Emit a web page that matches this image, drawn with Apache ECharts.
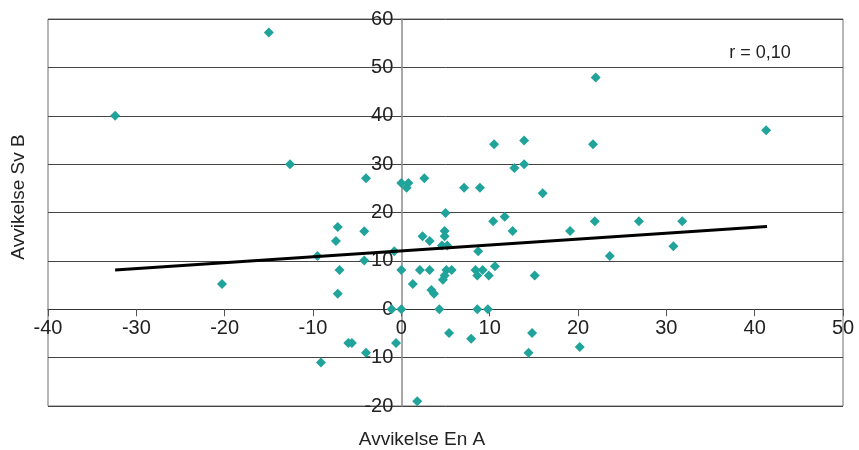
<!DOCTYPE html>
<html>
<head>
<meta charset="utf-8">
<script src="https://cdn.jsdelivr.net/npm/echarts@6/dist/echarts.min.js"></script>
<style>
  html, body { margin: 0; padding: 0; background: #ffffff; }
  #chart { width: 859px; height: 450px; }
</style>
</head>
<body>
<div id="chart"></div>
<script>
// Deviation En A (x) against deviation Sv B (y), one value per pupil group
const devEnA = [
  -32.4, -15.0, -12.6, -4.0, 0.0, 0.8, 0.6, 2.6, -7.2, -4.2,
  -7.4, -9.5, -4.2, -7.0, -7.2, -0.8, 0.0, -1.1, 0.0, 2.1,
  3.2, 1.3, 2.4, 3.2, 3.4, 3.7, 4.3, 4.9, 4.9, 4.6,
  5.2, 5.0, 5.1, 5.7, 4.9, 4.7, 8.7, 12.6, 19.1, 10.4,
  11.7, 8.4, 9.2, 8.6, 9.9, 10.6, 15.1, 8.6, 9.8, 5.4,
  7.9, 14.8, 14.4, 20.2, 1.8, -20.3, -6.0, -5.6, -4.0, -9.1,
  -0.6, 10.5, 13.9, 13.9, 12.8, 7.1, 8.9, 16.0, 22.0, 41.3,
  21.7, 21.9, 26.9, 31.8, 23.6, 30.8
];
const devSvB = [
  40.0, 57.2, 30.0, 27.1, 26.1, 26.1, 25.1, 27.1, 17.0, 16.1,
  14.1, 11.0, 10.1, 8.1, 3.2, 12.0, 8.1, 0.0, 0.0, 8.1,
  8.1, 5.2, 15.1, 14.1, 4.0, 3.2, 0.0, 16.2, 15.1, 13.2,
  13.2, 19.9, 8.1, 8.1, 7.0, 6.1, 12.0, 16.2, 16.2, 18.2,
  19.1, 8.1, 8.1, 7.0, 7.0, 8.9, 7.0, 0.0, 0.0, -4.9,
  -6.1, -4.9, -9.0, -7.8, -19.0, 5.2, -7.0, -7.0, -9.0, -11.0,
  -7.0, 34.1, 34.9, 30.0, 29.2, 25.1, 25.1, 24.0, 47.9, 37.0,
  34.1, 18.2, 18.2, 18.2, 11.0, 13.0
];

// Fitted regression line, start and end points
const trendX = [-32.4, 41.4];
const trendY = [8.1, 17.1];

// Axis ranges and labels
const xRange = [-40, 50];
const yRange = [-20, 60];
const tickStep = 10;
const xTitle = 'Avvikelse En A';
const yTitle = 'Avvikelse Sv B';
const corrLabel = 'r = 0,10';

const points = devEnA.map((x, i) => [x, devSvB[i]]);
const trend = trendX.map((x, i) => [x, trendY[i]]);

const FONT = '"Liberation Sans", Arial, sans-serif';
const GRID = { left: 48, right: 16, top: 19, bottom: 44 };

const chart = echarts.init(document.getElementById('chart'), null, { renderer: 'canvas' });

chart.setOption({
  animation: false,
  backgroundColor: '#ffffff',
  grid: {
    left: GRID.left, right: GRID.right, top: GRID.top, bottom: GRID.bottom,
    show: true,
    borderColor: '#6e6e6e',
    borderWidth: 1,
    backgroundColor: 'transparent'
  },
  xAxis: {
    type: 'value',
    position: 'bottom',
    min: xRange[0], max: xRange[1], interval: tickStep,
    axisLine: { show: true, onZero: false, lineStyle: { color: '#333333', width: 1 } },
    axisTick: { show: true, length: 7, lineStyle: { color: '#555555' } },
    axisLabel: {
      color: '#222222', fontSize: 20, fontFamily: FONT, margin: 9,
      showMinLabel: true, showMaxLabel: true
    },
    splitLine: { show: false }
  },
  yAxis: {
    type: 'value',
    position: 'left',
    min: yRange[0], max: yRange[1], interval: tickStep,
    axisLine: { show: true, onZero: false, lineStyle: { color: '#8a8a8a', width: 1.5 } },
    axisTick: { show: false },
    axisLabel: { color: '#222222', fontSize: 20, fontFamily: FONT, margin: 8 },
    splitLine: { show: true, lineStyle: { color: '#444444', width: 1 } }
  },
  graphic: [
    {
      type: 'text', x: 422, y: 440,
      style: { text: xTitle, fill: '#222222', font: '19px ' + FONT, align: 'center', verticalAlign: 'middle' }
    },
    {
      type: 'text', x: 19, y: 197, rotation: Math.PI / 2,
      style: { text: yTitle, fill: '#222222', font: '19px ' + FONT, align: 'center', verticalAlign: 'middle' }
    },
    {
      type: 'text', x: 760, y: 53,
      style: { text: corrLabel, fill: '#222222', font: '18px ' + FONT, align: 'center', verticalAlign: 'middle' }
    }
  ],
  series: [
    {
      type: 'scatter',
      data: points,
      symbol: 'diamond',
      symbolSize: 10,
      itemStyle: { color: '#1fa39a', opacity: 1 },
      z: 2
    },
    {
      type: 'line',
      data: trend,
      symbol: 'none',
      lineStyle: { color: '#000000', width: 3 },
      z: 3
    }
  ]
});

// Move both axes (line, ticks and labels) so they cross at the origin
const zeroX = chart.convertToPixel({ xAxisIndex: 0 }, 0);
const zeroY = chart.convertToPixel({ yAxisIndex: 0 }, 0);
const plotBottom = chart.getHeight() - GRID.bottom;
chart.setOption({
  xAxis: { offset: -(plotBottom - zeroY) },
  yAxis: { offset: -(zeroX - GRID.left) }
});
</script>
</body>
</html>
